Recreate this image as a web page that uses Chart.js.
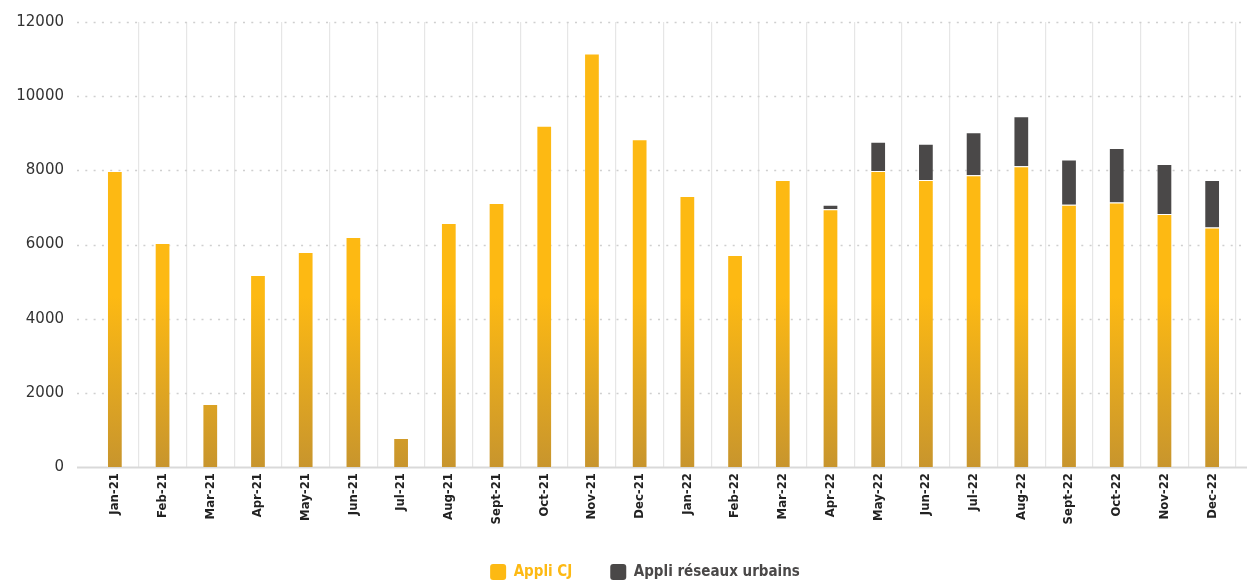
<!DOCTYPE html>
<html>
<head>
<meta charset="utf-8">
<script src="https://cdn.jsdelivr.net/npm/chart.js@4/dist/chart.umd.min.js"></script>
<style>
  html, body { margin: 0; padding: 0; background: #fff; }
  #wrap { width: 1247px; height: 582px; }
</style>
</head>
<body>
<div id="wrap"><canvas id="c" width="1247" height="582"></canvas></div>
<script>
// Monthly app usage, Jan 2021 – Dec 2022
const months = ['Jan-21','Feb-21','Mar-21','Apr-21','May-21','Jun-21','Jul-21','Aug-21','Sept-21','Oct-21','Nov-21','Dec-21',
                'Jan-22','Feb-22','Mar-22','Apr-22','May-22','Jun-22','Jul-22','Aug-22','Sept-22','Oct-22','Nov-22','Dec-22'];
const appliCJ = [7980, 6040, 1700, 5180, 5800, 6200, 780, 6580, 7120, 9200, 11150, 8840,
                 7310, 5720, 7740, 6950, 7980, 7740, 7870, 8110, 7070, 7130, 6820, 6460];
const appliUrbains = [0, 0, 0, 0, 0, 0, 0, 0, 0, 0, 0, 0,
                      0, 0, 0, 120, 790, 980, 1160, 1350, 1220, 1470, 1350, 1280];
const yTicks = [0, 2000, 4000, 6000, 8000, 10000, 12000];

const YELLOW = '#FDB913';
const GOLD = '#C8952D';
const DARK = '#4A4848';

// Vertical gradient shared by all yellow bars: golden at the baseline, bright yellow higher up
function cjFill(ctx) {
  const chart = ctx.chart;
  const area = chart.chartArea;
  if (!area) return YELLOW;
  const y = chart.scales.y;
  const g = chart.ctx.createLinearGradient(0, y.getPixelForValue(0), 0, y.getPixelForValue(4600));
  g.addColorStop(0, GOLD);
  g.addColorStop(1, YELLOW);
  return g;
}

// Dotted value lines and solid baseline, running across the full width
const valueLines = {
  id: 'valueLines',
  beforeDatasetsDraw(chart) {
    const ctx = chart.ctx;
    const y = chart.scales.y;
    const x0 = 77, x1 = chart.width;
    ctx.save();
    yTicks.forEach(v => {
      const py = Math.round(y.getPixelForValue(v)) + 0.5;
      ctx.beginPath();
      if (v === 0) {
        ctx.setLineDash([]);
        ctx.strokeStyle = '#d9d9d9';
        ctx.lineWidth = 2;
      } else {
        ctx.setLineDash([2, 6.3]);
        ctx.strokeStyle = '#cfcfcf';
        ctx.lineWidth = 1.5;
      }
      ctx.moveTo(x0, py);
      ctx.lineTo(x1, py);
      ctx.stroke();
    });
    ctx.restore();
  }
};

// Centre the legend row under the plotted months
const legendShift = {
  id: 'legendShift',
  afterLayout(chart) {
    if (chart.legend) {
      chart.legend.left += 27;
      chart.legend.right += 27;
    }
  }
};

new Chart(document.getElementById('c'), {
  type: 'bar',
  data: {
    labels: months,
    datasets: [
      {
        label: 'Appli CJ',
        data: appliCJ,
        backgroundColor: cjFill,
        borderColor: 'rgba(255,255,255,0.45)',
        borderWidth: 1,
        borderSkipped: 'bottom',
        barPercentage: 0.33,
        categoryPercentage: 1
      },
      {
        label: 'Appli réseaux urbains',
        data: appliUrbains,
        backgroundColor: DARK,
        borderColor: 'rgba(255,255,255,0.45)',
        borderWidth: 1,
        borderSkipped: 'bottom',
        barPercentage: 0.33,
        categoryPercentage: 1
      }
    ]
  },
  options: {
    responsive: false,
    animation: false,
    layout: { autoPadding: false, padding: { top: 22, right: 11, bottom: 0, left: 0 } },
    plugins: {
      tooltip: { enabled: false },
      legend: {
        position: 'bottom',
        maxHeight: 56,
        labels: {
          padding: 38,
          boxWidth: 16,
          boxHeight: 16,
          useBorderRadius: true,
          borderRadius: 3,
          font: { family: 'DejaVu Sans Condensed', size: 15, weight: 'bold' },
          generateLabels() {
            return [
              { text: 'Appli CJ', fillStyle: YELLOW, strokeStyle: YELLOW, lineWidth: 0, fontColor: YELLOW, borderRadius: 3, datasetIndex: 0 },
              { text: 'Appli réseaux urbains', fillStyle: DARK, strokeStyle: DARK, lineWidth: 0, fontColor: DARK, borderRadius: 3, datasetIndex: 1 }
            ];
          }
        }
      }
    },
    scales: {
      x: {
        stacked: true,
        offset: true,
        afterFit(s) { s.height = 59; },
        border: { display: false },
        grid: {
          offset: true,
          drawTicks: false,
          lineWidth: 1.2,
          color: ctx => ctx.index === 0 ? 'rgba(0,0,0,0)' : '#e6e6e6'
        },
        ticks: {
          autoSkip: false,
          maxRotation: 90,
          minRotation: 90,
          padding: 6,
          color: '#222',
          font: { family: 'DejaVu Sans Condensed', size: 13, weight: 'bold' }
        }
      },
      y: {
        stacked: true,
        min: 0,
        max: 12000,
        afterFit(s) { s.width = 91; s.paddingTop = 0; s.paddingBottom = 0; },
        afterBuildTicks(s) { s.ticks = yTicks.map(v => ({ value: v })); },
        border: { display: false },
        grid: { display: false, drawTicks: false },
        ticks: {
          padding: 27,
          color: '#333',
          font: { family: 'DejaVu Sans', size: 15 },
          callback: v => String(v)
        }
      }
    }
  },
  plugins: [valueLines, legendShift]
});
</script>
</body>
</html>
